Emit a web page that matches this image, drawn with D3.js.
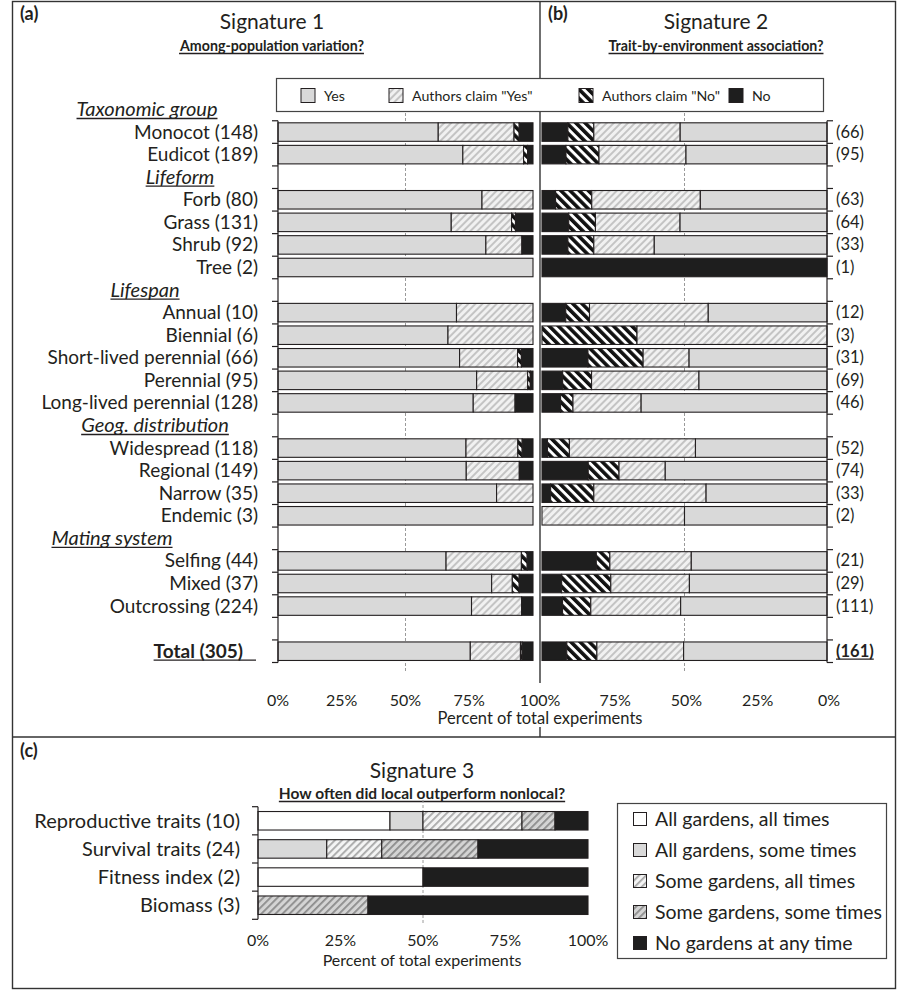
<!DOCTYPE html>
<html>
<head>
<meta charset="utf-8">
<script src="https://cdn.jsdelivr.net/npm/d3@7"></script>
<style>
  html, body { margin: 0; padding: 0; background: #fff; }
  svg { display: block; font-family: Lato, "Open Sans", sans-serif; }
</style>
</head>
<body>
<svg id="chart" width="898" height="990"></svg>
<script>
// ---- Signatures 1 & 2: rows of the shared category axis ----
const rowKeys = ["Taxonomic group", "Monocot", "Eudicot", "Lifeform", "Forb", "Grass", "Shrub", "Tree",
  "Lifespan", "Annual", "Biennial", "Short-lived perennial", "Perennial", "Long-lived perennial",
  "Geog. distribution", "Widespread", "Regional", "Narrow", "Endemic",
  "Mating system", "Selfing", "Mixed", "Outcrossing", "gap", "Total"];
const headerKeys = ["Taxonomic group", "Lifeform", "Lifespan", "Geog. distribution", "Mating system"];
const categories = ["Monocot", "Eudicot", "Forb", "Grass", "Shrub", "Tree", "Annual", "Biennial",
  "Short-lived perennial", "Perennial", "Long-lived perennial", "Widespread", "Regional", "Narrow",
  "Endemic", "Selfing", "Mixed", "Outcrossing", "Total"];

// Signature 1: among-population variation (number of experiments)
const sig1N        = [148, 189, 80, 131, 92, 2, 10, 6, 66, 95, 128, 118, 149, 35, 3, 44, 37, 224, 305];
const sig1Yes      = [93, 137, 64, 89, 75, 2, 7, 4, 47, 74, 98, 87, 110, 30, 3, 29, 31, 170, 230];
const sig1ClaimYes = [44, 45, 16, 31, 13, 0, 3, 2, 15, 19, 21, 24, 31, 5, 0, 13, 3, 44, 60];
const sig1ClaimNo  = [3, 3, 0, 2, 0, 0, 0, 0, 1, 1, 0, 2, 0, 0, 0, 1, 1, 0, 2];
const sig1No       = [8, 4, 0, 9, 4, 0, 0, 0, 3, 1, 9, 5, 8, 0, 0, 1, 2, 10, 13];

// Signature 2: trait-by-environment association (number of experiments)
const sig2N        = [66, 95, 63, 64, 33, 1, 12, 3, 31, 69, 46, 52, 74, 33, 2, 21, 29, 111, 161];
const sig2Yes      = [34, 47, 28, 33, 20, 0, 5, 0, 15, 31, 30, 24, 42, 14, 1, 10, 14, 57, 81];
const sig2ClaimYes = [20, 29, 24, 19, 7, 0, 5, 2, 5, 26, 11, 23, 12, 13, 1, 6, 8, 35, 49];
const sig2ClaimNo  = [6, 11, 8, 6, 3, 0, 1, 1, 6, 7, 2, 4, 8, 5, 0, 1, 5, 11, 17];
const sig2No       = [6, 8, 3, 6, 3, 1, 1, 0, 5, 5, 3, 1, 12, 1, 0, 4, 2, 8, 14];

const answerKeys = ["Yes", "Authors claim \"Yes\"", "Authors claim \"No\"", "No"];
const pctTicks = [0, 25, 50, 75, 100];

// ---- Signature 3: local vs nonlocal performance ----
const traitCats = ["Reproductive traits", "Survival traits", "Fitness index", "Biomass"];
const traitN = [10, 24, 2, 3];
const allGardensAllTimes   = [4, 0, 1, 0];
const allGardensSomeTimes  = [1, 5, 0, 0];
const someGardensAllTimes  = [3, 4, 0, 0];
const someGardensSomeTimes = [1, 7, 0, 1];
const noGardensAnyTime     = [1, 8, 1, 2];
const outcomeKeys = ["All gardens, all times", "All gardens, some times", "Some gardens, all times",
  "Some gardens, some times", "No gardens at any time"];

// ------------------------------------------------------------------
const svg = d3.select("#chart");
const ink = "#231f20";

// Fill patterns
const defs = svg.append("defs");
function stripes(id, bg, fg, lineW, gap, angle) {
  const p = defs.append("pattern").attr("id", id).attr("patternUnits", "userSpaceOnUse")
    .attr("width", gap).attr("height", gap).attr("patternTransform", `rotate(${angle})`);
  p.append("rect").attr("width", gap).attr("height", gap).attr("fill", bg);
  p.append("rect").attr("x", 0).attr("width", lineW).attr("height", gap).attr("fill", fg);
}
stripes("hatchLight", "#f1f1f1", "#c4c4c4", 2, 5, 45);
stripes("hatchBW", "#ffffff", "#111111", 3.6, 6.5, -45);
stripes("hatchC1", "#f4f4f4", "#a8a8a8", 1.8, 5, 45);
stripes("hatchC2", "#d4d4d4", "#8c8c8c", 1.8, 5, 45);

const answerFill = d3.scaleOrdinal().domain(answerKeys)
  .range(["#d9d9d9", "url(#hatchLight)", "url(#hatchBW)", "#1e1e1e"]);
const outcomeFill = d3.scaleOrdinal().domain(outcomeKeys)
  .range(["#ffffff", "#d9d9d9", "url(#hatchC1)", "url(#hatchC2)", "#1e1e1e"]);

function underline(sel, extraRight) {
  sel.each(function () {
    const b = this.getBBox();
    const yb = +d3.select(this).attr("y") + 2.5;
    svg.append("line").attr("x1", b.x).attr("x2", b.x + b.width + (extraRight || 0))
      .attr("y1", yb).attr("y2", yb).attr("stroke", ink).attr("stroke-width", 1.3);
  });
}
function txt(x, y, s, opts) {
  opts = opts || {};
  const t = svg.append("text").attr("x", x).attr("y", y).text(s)
    .attr("font-size", opts.size || 16).attr("fill", ink)
    .attr("text-anchor", opts.anchor || "start")
    .attr("font-weight", opts.bold ? "bold" : null)
    .attr("font-style", opts.italic ? "italic" : null);
  if (opts.underline) underline(t, opts.extra);
  return t;
}

// ---- Frame and panel dividers ----
svg.append("rect").attr("x", 12.5).attr("y", 1.5).attr("width", 883).attr("height", 987)
  .attr("fill", "none").attr("stroke", "#333").attr("stroke-width", 1.4);
svg.append("line").attr("x1", 12.5).attr("x2", 895.5).attr("y1", 737).attr("y2", 737)
  .attr("stroke", "#333").attr("stroke-width", 1.4);
[[1.5, 683], [727, 737]].forEach(([a, b]) =>
  svg.append("line").attr("x1", 540).attr("x2", 540).attr("y1", a).attr("y2", b)
    .attr("stroke", "#333").attr("stroke-width", 1.4));

// ---- Titles ----
txt(20, 20, "(a)", { bold: true, size: 18 });
txt(272, 29, "Signature 1", { anchor: "middle", size: 21 });
txt(272, 51, "Among-population variation?", { anchor: "middle", bold: true, size: 14.2, underline: true });
txt(548, 20, "(b)", { bold: true, size: 18 });
txt(716, 29, "Signature 2", { anchor: "middle", size: 21 });
txt(716, 51, "Trait-by-environment association?", { anchor: "middle", bold: true, size: 14.2, underline: true });

// ---- Scales for panels (a) and (b) ----
const y = d3.scaleBand().domain(rowKeys).range([98.2, 662.5]).paddingInner(0.18).paddingOuter(0.09);
const xa = d3.scaleLinear().domain([0, 100]).range([278, 533]);
const xb = d3.scaleLinear().domain([100, 0]).range([542, 827]);
// panel (b) bars are stacked from its 100% edge: No, claim No, claim Yes, Yes
const xbFromEdge = d3.scaleLinear().domain([0, 100]).range([542, 827]);
const axisTop = y.step() + 98.2, axisBottom = 662.5;

// 50% reference lines
[xa, xb].forEach(sc =>
  svg.append("line").attr("x1", sc(50)).attr("x2", sc(50)).attr("y1", 113).attr("y2", 672)
    .attr("stroke", "#9a9a9a").attr("stroke-dasharray", "3,2").attr("stroke-width", 1));

function stackRows(series, nArr, keys) {
  const rows = categories.map((c, i) => {
    const r = { cat: c };
    answerKeys.forEach((k, j) => { r[k] = series[j][i] / nArr[i] * 100; });
    return r;
  });
  return d3.stack().keys(keys)(rows);
}
const stackA = stackRows([sig1Yes, sig1ClaimYes, sig1ClaimNo, sig1No], sig1N, answerKeys);
const stackB = stackRows([sig2Yes, sig2ClaimYes, sig2ClaimNo, sig2No], sig2N, answerKeys.slice().reverse());

function drawBars(stack, xs) {
  const g = svg.append("g");
  stack.forEach(layer => {
    g.selectAll(null).data(layer.filter(d => d[1] - d[0] > 0)).enter().append("rect")
      .attr("x", d => xs(d[0]))
      .attr("width", d => xs(d[1]) - xs(d[0]))
      .attr("y", d => y(d.data.cat))
      .attr("height", y.bandwidth())
      .attr("fill", answerFill(layer.key))
      .attr("stroke", ink).attr("stroke-width", 1.1);
  });
}
drawBars(stackA, xa);
drawBars(stackB, xbFromEdge);

// Category axes with ticks between categories
function catAxis(x, dir, top, bottom, step) {
  const g = svg.append("g").attr("stroke", ink).attr("stroke-width", 1.2);
  g.append("line").attr("x1", x).attr("x2", x).attr("y1", top).attr("y2", bottom);
  d3.range(top, bottom + 0.5, step).forEach(t =>
    g.append("line").attr("x1", x).attr("x2", x + dir * 6).attr("y1", t).attr("y2", t));
}
catAxis(278, -1, axisTop, axisBottom, y.step());
catAxis(827, 1, axisTop, axisBottom, y.step());

// Row labels
categories.forEach((c, i) => {
  const yc = y(c) + y.bandwidth() / 2 + 6.5;
  if (c === "Total") {
    txt(243, yc, `Total (${sig1N[i]})`, { anchor: "end", bold: true, size: 19, underline: true, extra: 13 });
    txt(836, yc - 1, `(${sig2N[i]})`, { bold: true, size: 16.5, underline: true });
  } else {
    txt(258, yc, `${c} (${sig1N[i]})`, { anchor: "end", size: 19 });
    txt(836, yc - 1, `(${sig2N[i]})`, { size: 16.5 });
  }
});
const headerCenters = [147, 180, 145, 155, 112];
headerKeys.forEach((h, i) => {
  txt(headerCenters[i], y(h) + y.bandwidth() / 2 + 6.5, h, { anchor: "middle", italic: true, size: 20, underline: true });
});

// Percent axes along the bottom
pctTicks.forEach(t => {
  if (t !== 100) {
    txt(xa(t), 706, t + "%", { anchor: "middle", size: 16 });
    txt(xb(t) + 2, 706, t + "%", { anchor: "middle", size: 16 });
  }
});
txt(540, 706, "100%", { anchor: "middle", size: 16 });
txt(540, 724, "Percent of total experiments", { anchor: "middle", size: 16.5 });

// Legend for (a)/(b)
svg.append("rect").attr("x", 276.5).attr("y", 78.5).attr("width", 547).attr("height", 33)
  .attr("fill", "#fff").attr("stroke", "#444").attr("stroke-width", 1.2);
const legX = [301, 389, 579, 729];
answerKeys.forEach((k, i) => {
  svg.append("rect").attr("x", legX[i]).attr("y", 88.5).attr("width", 14).attr("height", 14)
    .attr("fill", answerFill(k)).attr("stroke", ink).attr("stroke-width", 1);
  txt(legX[i] + 23, 101, k, { size: 14.2 });
});

// ---- Panel (c) ----
txt(20, 757, "(c)", { bold: true, size: 18 });
txt(422, 778, "Signature 3", { anchor: "middle", size: 21 });
txt(422, 799, "How often did local outperform nonlocal?", { anchor: "middle", bold: true, size: 15.5, underline: true });

const yc = d3.scaleBand().domain(traitCats).range([806.7, 919.3]).paddingInner(0.343).paddingOuter(0.1715);
const xc = d3.scaleLinear().domain([0, 100]).range([258, 588]);
svg.append("line").attr("x1", xc(50)).attr("x2", xc(50)).attr("y1", 800).attr("y2", 925)
  .attr("stroke", "#9a9a9a").attr("stroke-dasharray", "3,2");

const traitSeries = [allGardensAllTimes, allGardensSomeTimes, someGardensAllTimes, someGardensSomeTimes, noGardensAnyTime];
const traitRows = traitCats.map((c, i) => {
  const r = { cat: c };
  outcomeKeys.forEach((k, j) => { r[k] = traitSeries[j][i] / traitN[i] * 100; });
  return r;
});
const stackC = d3.stack().keys(outcomeKeys)(traitRows);
const gc = svg.append("g");
stackC.forEach(layer => {
  gc.selectAll(null).data(layer.filter(d => d[1] - d[0] > 0)).enter().append("rect")
    .attr("x", d => xc(d[0])).attr("width", d => xc(d[1]) - xc(d[0]))
    .attr("y", d => yc(d.data.cat)).attr("height", yc.bandwidth())
    .attr("fill", outcomeFill(layer.key)).attr("stroke", ink).attr("stroke-width", 1.1);
});
catAxis(258, -1, 806.7, 919.3, yc.step());
traitCats.forEach((c, i) => {
  txt(240, yc(c) + yc.bandwidth() / 2 + 7, `${c} (${traitN[i]})`, { anchor: "end", size: 20 });
});
pctTicks.forEach(t => txt(xc(t), 946, t + "%", { anchor: "middle", size: 16 }));
txt(422, 966, "Percent of total experiments", { anchor: "middle", size: 16 });

// Legend for (c)
svg.append("rect").attr("x", 617.5).attr("y", 803.5).attr("width", 269).attr("height", 155)
  .attr("fill", "#fff").attr("stroke", "#444").attr("stroke-width", 1.2);
outcomeKeys.forEach((k, i) => {
  const cy = 819 + i * 31;
  svg.append("rect").attr("x", 633.5).attr("y", cy - 6.5).attr("width", 13).attr("height", 13)
    .attr("fill", outcomeFill(k)).attr("stroke", ink).attr("stroke-width", 1);
  txt(655, cy + 6.5, k, { size: 19.5 });
});
</script>
</body>
</html>
